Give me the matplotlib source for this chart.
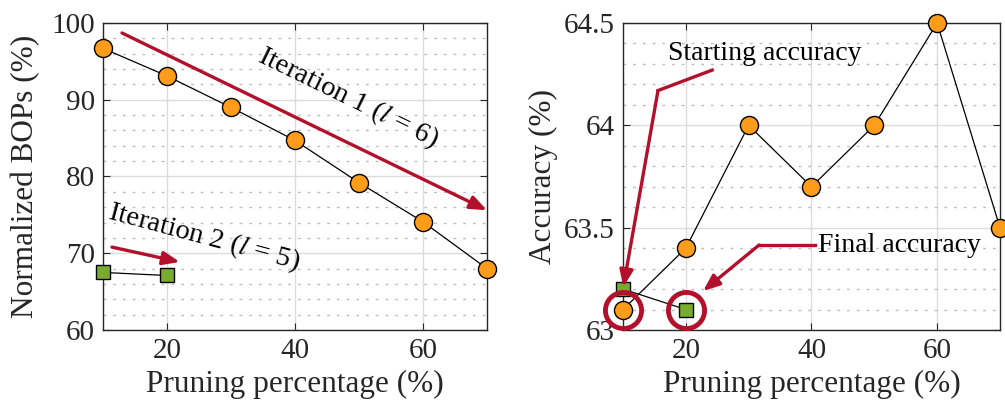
import matplotlib.pyplot as plt
from matplotlib.ticker import MultipleLocator, FormatStrFormatter

# data
prune_pct = [10, 20, 30, 40, 50, 60, 70]
bops_it1 = [96.7, 93.1, 89.0, 84.7, 79.2, 74.1, 68.0]
acc_it1 = [63.1, 63.4, 64.0, 63.7, 64.0, 64.5, 63.5]
prune_pct_it2 = [10, 20]
bops_it2 = [67.5, 67.1]
acc_it2 = [63.2, 63.1]

plt.rcParams['font.family'] = ['Liberation Serif', 'DejaVu Serif']
plt.rcParams['mathtext.fontset'] = 'stix'

ORANGE = '#FF9C1A'
GREEN = '#77AC30'
RED = '#B3102C'
DARK = '#262626'
ARROW = '-|>,head_length=1.0,head_width=0.4'

fig = plt.figure(figsize=(10.05, 4.13), dpi=100)
ax1 = fig.add_axes([0.1025, 0.201, 0.382, 0.7433])
ax2 = fig.add_axes([0.6199, 0.201, 0.3751, 0.7433])


def style(ax):
    ax.tick_params(which='both', direction='in', top=True, right=True,
                   labelsize=21, colors=DARK, length=5, pad=6)
    ax.tick_params(which='minor', length=0)
    for s in ax.spines.values():
        s.set_color(DARK)
        s.set_linewidth(1.0)
    ax.grid(True, which='major', color='#dcdcdc', lw=1.0)
    ax.grid(True, which='minor', axis='y', color='#bdbdbd', lw=1.0,
            linestyle=(0, (2, 5)))
    ax.set_axisbelow(True)
    ax.set_xlim(10, 70)
    ax.set_xticks([20, 40, 60])
    ax.set_xlabel('Pruning percentage (%)', fontsize=22.5, color=DARK)


# left panel
ax1.plot(prune_pct, bops_it1, '-o', color='black', lw=0.9, ms=13,
         mfc=ORANGE, mec='black', mew=1.0, clip_on=False, zorder=4)
ax1.plot(prune_pct_it2, bops_it2, '-s', color='black', lw=0.9, ms=9.5,
         mfc=GREEN, mec='black', mew=1.0, clip_on=False, zorder=4)
ax1.set_ylim(60, 100)
ax1.set_yticks([60, 70, 80, 90, 100])
ax1.yaxis.set_minor_locator(MultipleLocator(2))
ax1.set_ylabel('Normalized BOPs (%)', fontsize=22.5, color=DARK, labelpad=8)
style(ax1)

ax1.annotate('', xy=(70, 75.6), xytext=(12.97, 98.7),
             arrowprops=dict(arrowstyle=ARROW, color=RED, lw=2.4,
                             shrinkA=0, shrinkB=0),
             annotation_clip=False, zorder=5)
ax1.annotate('', xy=(22.0, 68.86), xytext=(11.4, 70.8),
             arrowprops=dict(arrowstyle=ARROW, color=RED, lw=2.4,
                             shrinkA=0, shrinkB=0),
             zorder=5)
ax1.text(48.3, 90.2, 'Iteration 1 ($\\mathit{l}$ = 6)', fontsize=20.5,
         rotation=-26, ha='center', va='center', color='black',
         rotation_mode='anchor')
ax1.text(25.8, 72.1, 'Iteration 2 ($\\mathit{l}$ = 5)', fontsize=20.5,
         rotation=-15, ha='center', va='center', color='black',
         rotation_mode='anchor')

# right panel
ax2.plot(prune_pct, acc_it1, '-o', color='black', lw=0.9, ms=13,
         mfc=ORANGE, mec='black', mew=1.0, clip_on=False, zorder=4)
ax2.plot(prune_pct_it2, acc_it2, '-s', color='black', lw=0.9, ms=9.5,
         mfc=GREEN, mec='black', mew=1.0, clip_on=False, zorder=3)
ax2.set_ylim(63, 64.5)
ax2.set_yticks([63, 63.5, 64, 64.5])
ax2.yaxis.set_major_formatter(FormatStrFormatter('%g'))
ax2.yaxis.set_minor_locator(MultipleLocator(0.1))
ax2.set_ylabel('Accuracy (%)', fontsize=22.5, color=DARK, labelpad=4)
style(ax2)

# highlight rings
ax2.plot([prune_pct[0], prune_pct_it2[1]], [acc_it1[0], acc_it2[1]], 'o',
         ms=26, mfc='none', mec=RED, mew=3.5, clip_on=False, zorder=6)

ax2.plot([24.2, 15.57], [64.27, 64.17], color=RED, lw=2.4, zorder=5)
ax2.annotate('', xy=(10.05, 63.21), xytext=(15.57, 64.17),
             arrowprops=dict(arrowstyle=ARROW, color=RED, lw=2.4,
                             shrinkA=0, shrinkB=0),
             zorder=5)
ax2.text(17.2, 64.35, 'Starting accuracy', fontsize=20, ha='left',
         va='center', color='black')

ax2.plot([40.56, 31.65], [63.415, 63.415], color=RED, lw=2.4, zorder=5)
ax2.annotate('', xy=(22.73, 63.19), xytext=(31.65, 63.415),
             arrowprops=dict(arrowstyle=ARROW, color=RED, lw=2.4,
                             shrinkA=0, shrinkB=0),
             zorder=5)
ax2.text(41.0, 63.415, 'Final accuracy', fontsize=20, ha='left',
         va='center', color='black')

fig.savefig('out.png', dpi=100)
